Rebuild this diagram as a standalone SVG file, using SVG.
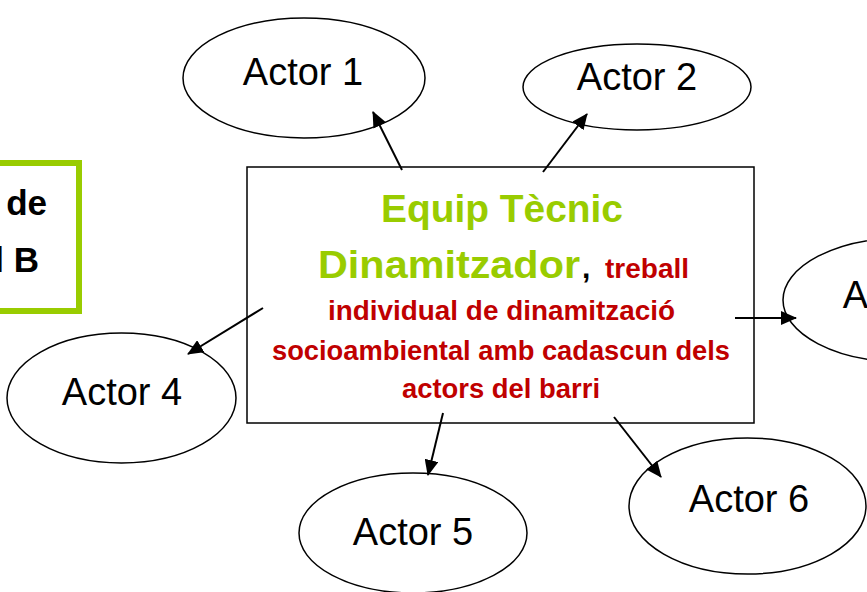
<svg xmlns="http://www.w3.org/2000/svg" width="867" height="592" viewBox="0 0 867 592">
<style>
.ell{fill:none;stroke:#000;stroke-width:1.5}
.lbl{font-family:"Liberation Sans",Arial,sans-serif;font-size:38px;fill:#000;text-anchor:middle}
.con{stroke:#000;stroke-width:2;fill:none;marker-end:url(#ah)}
.g{font-family:"Liberation Sans",Arial,sans-serif;font-weight:bold;font-size:39px;fill:#99CC00}
.r{font-family:"Liberation Sans",Arial,sans-serif;font-weight:bold;font-size:27px;fill:#C00000}
.k{font-family:"Liberation Sans",Arial,sans-serif;font-weight:bold;font-size:35px;fill:#000;text-anchor:end}
</style>
<defs>
<marker id="ah" markerUnits="userSpaceOnUse" markerWidth="16" markerHeight="14" refX="15" refY="7" orient="auto">
<path d="M0,0 L16,7 L0,14 z" fill="#000"/>
</marker>
</defs>
<rect width="867" height="592" fill="#fff"/>
<g id="side-box">
<rect x="-10" y="163" width="89" height="148" fill="#fff" stroke="#99CC00" stroke-width="6"/>
<text class="k" x="47" y="215">de</text>
<text class="k" x="39" y="272">l B</text>
</g>
<g id="center">
<rect x="247" y="167" width="507" height="256" fill="#fff" stroke="#000" stroke-width="1.5"/>
<text class="g" x="381" y="222" textLength="242" lengthAdjust="spacingAndGlyphs">Equip Tècnic</text>
<text class="g" x="318" y="278" textLength="262" lengthAdjust="spacingAndGlyphs">Dinamitzador</text>
<text x="582" y="278" style="font-family:'Liberation Sans',Arial,sans-serif;font-weight:bold;font-size:30px;fill:#000">,</text>
<text class="r" x="605" y="278" textLength="84" lengthAdjust="spacingAndGlyphs">treball</text>
<text class="r" x="328" y="320" textLength="347" lengthAdjust="spacingAndGlyphs">individual  de dinamització</text>
<text class="r" x="272" y="360" textLength="458" lengthAdjust="spacingAndGlyphs">socioambiental amb cadascun dels</text>
<text class="r" x="402" y="398" textLength="198" lengthAdjust="spacingAndGlyphs">actors del barri</text>
</g>
<g id="connectors">
<line class="con" x1="402" y1="170" x2="373" y2="112"/>
<line class="con" x1="543" y1="172" x2="587" y2="114"/>
<line class="con" x1="735" y1="318" x2="796" y2="318"/>
<line class="con" x1="263" y1="308" x2="188" y2="354"/>
<line class="con" x1="443" y1="413" x2="428" y2="475"/>
<line class="con" x1="614" y1="417" x2="661" y2="477"/>
</g>
<g id="actor1">
<ellipse class="ell" cx="304" cy="78" rx="121" ry="60"/>
<text class="lbl" x="303" y="85">Actor 1</text>
</g>
<g id="actor2">
<ellipse class="ell" cx="637" cy="87" rx="114" ry="43"/>
<text class="lbl" x="637" y="90">Actor 2</text>
</g>
<g id="actor3">
<ellipse class="ell" cx="903" cy="300" rx="120" ry="62"/>
<text class="lbl" x="903" y="308">Actor 3</text>
</g>
<g id="actor4">
<ellipse class="ell" cx="121.5" cy="398" rx="114.5" ry="65"/>
<text class="lbl" x="122" y="405">Actor 4</text>
</g>
<g id="actor5">
<ellipse class="ell" cx="413" cy="533" rx="114" ry="60"/>
<text class="lbl" x="413" y="545">Actor 5</text>
</g>
<g id="actor6">
<ellipse class="ell" cx="747.5" cy="506" rx="118.5" ry="68"/>
<text class="lbl" x="749" y="512">Actor 6</text>
</g>
</svg>
